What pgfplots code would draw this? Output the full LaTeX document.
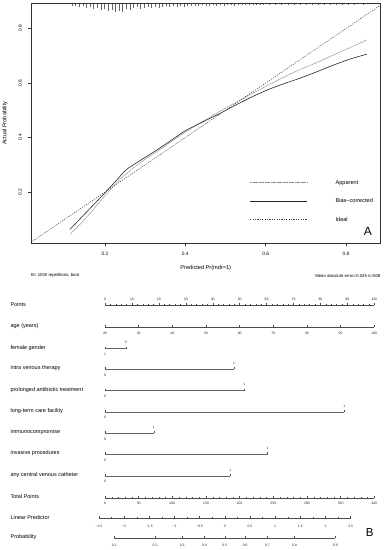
\documentclass[border=0pt]{standalone}
\usepackage{fontspec}
\setmainfont{Liberation Sans}
\usepackage{pgfplots}
\usepackage{pgfplotstable}
\pgfplotsset{compat=1.18}
\newcommand\fs[1]{\fontsize{#1}{#1}\selectfont}
\pgfdeclareplotmark{tup}{%
  \pgfpathmoveto{\pgfpointorigin}%
  \pgfpathlineto{\pgfpoint{0pt}{\pgfplotmarksize}}%
  \pgfusepathqstroke}

\pgfplotstableread{
x y
0.113 0.045
0.150 0.100
0.200 0.186
0.230 0.235
0.254 0.268
0.290 0.310
0.329 0.348
0.370 0.390
0.400 0.420
0.450 0.465
0.500 0.508
0.550 0.548
0.603 0.590
0.650 0.625
0.686 0.650
0.730 0.677
0.769 0.703
0.810 0.730
0.852 0.758
}\apparent

\pgfplotstableread{
x y
0.113 0.063
0.150 0.120
0.200 0.197
0.230 0.245
0.254 0.283
0.290 0.318
0.329 0.354
0.370 0.395
0.400 0.425
0.450 0.462
0.487 0.489
0.520 0.515
0.560 0.545
0.603 0.574
0.650 0.600
0.686 0.618
0.730 0.643
0.769 0.666
0.810 0.688
0.852 0.706
}\biascorr

% rug of predicted values: position and spike length (pt)
\pgfplotstableread{
x len
0.118 2
0.127 2.5
0.136 3
0.145 2.5
0.154 4
0.163 3
0.172 5
0.181 4
0.190 6
0.199 5
0.208 7
0.217 6
0.226 8
0.235 7.5
0.244 8.5
0.253 5
0.262 6
0.271 4
0.280 3
0.289 5
0.298 4
0.307 3
0.316 4.5
0.325 3.5
0.334 4
0.343 3
0.352 2.5
0.361 3.5
0.370 2.5
0.379 3
0.388 2
0.397 3
0.406 2
0.415 2.5
0.424 2
0.433 2
0.442 1.5
0.451 2
0.460 2
0.469 1.5
0.478 2
0.487 1.5
0.496 2
0.505 1.5
0.514 1.5
0.523 2
0.532 1.5
0.541 1.5
0.550 1.5
0.559 1
0.568 1.5
0.577 1
0.586 1.5
0.595 1
0.610 1.5
0.625 1
0.640 1
0.655 1.5
0.670 1
0.685 1
0.700 1
0.715 1.5
0.730 1
0.745 1
0.760 1
0.775 1
0.790 1
0.805 1
0.820 1
0.843 1
}\rug

% binary predictors: row position, points at level change, labels
\pgfplotstableread{
y e l0 l1
-348.7 7.7 1 0
-369.3 47.9 0 1
-390.8 51.7 0 1
-412.0 88.9 0 1
-433.3 18.1 0 1
-454.3 60.4 0 1
-476.0 46.5 0 1
}\binvars

\begin{document}
\begin{tikzpicture}
\useasboundingbox (0,0) rectangle (384pt,550pt);
\begin{axis}[
  at={(31pt,307pt)}, anchor=south west, scale only axis,
  width=349.5pt, height=239.5pt,
  xmin=0.016, xmax=0.886, ymin=0.013, ymax=0.892,
  clip mode=individual,
  xtick={0.2,0.4,0.6,0.8}, ytick={0.2,0.4,0.6,0.8},
  xtick pos=left, ytick pos=left, tick align=outside,
  major tick length=2.5pt,
  tick style={black!80, line width=0.4pt},
  tick label style={font=\fs{4.8}},
  /pgf/number format/assume math mode=true,
  /pgf/number format/fixed,
  yticklabel style={rotate=90, anchor=south},
  xticklabel shift=3pt, yticklabel shift=3pt,
  xlabel={Predicted Pr(mdr=1)}, ylabel={Actual Probability},
  label style={font=\fs{5.6}},
  xlabel style={at={(axis description cs:0.5,-0.1031)}, anchor=center},
  ylabel style={at={(axis description cs:-0.0744,0.5)}, anchor=center},
  axis line style={line width=0.5pt, black!80},
  legend image code/.code={\draw[#1] (0pt,2pt) -- (57pt,2pt); \path (85pt,0pt);},
  legend style={at={(axis description cs:0.6266,0.2618)}, anchor=north west,
    draw=none, fill=none, inner sep=0pt, outer sep=0pt, row sep=13pt,
    column sep=0pt, font=\fs{5.6},
    nodes={inner sep=0pt, text height=4pt, text depth=1.5pt, anchor=base west}},
]
\addplot[black!45, line width=0.6pt, dash pattern=on 0.7pt off 0.5pt, smooth] table {\apparent};
\addlegendentry{Apparent}
\addplot[black!85, line width=0.6pt, smooth] table {\biascorr};
\addlegendentry{Bias--corrected}
\addplot[black!75, line width=0.5pt, dash pattern=on 1.2pt off 1.2pt] coordinates {(0,0) (1,1)};
\addlegendentry{Ideal}
\addplot[forget plot, black!60, line width=0.35pt, mark=none,
  quiver={u=0, v={-\thisrow{len}/272.5}}] table[x=x, y expr=0.892] {\rug};
\node[font=\fs{12}] at (axis description cs:0.964,0.047) {A};
\node[font=\fs{4.3}, anchor=west, inner sep=0pt] at (axis description cs:0,-0.1365) {B= 1000 repetitions, boot};
\node[font=\fs{4.3}, anchor=east, inner sep=0pt] at (axis description cs:1,-0.1365) {Mean absolute error=0.025 n=508};
\end{axis}

\begin{axis}[
  at={(78.07pt,0pt)}, anchor=south west, scale only axis,
  width=323.16pt, height=260pt,
  xmin=-10, xmax=110, ymin=-550, ymax=-290,
  clip=false, axis line style={draw=none},
  xtick=\empty,
  ytick={-538.5,-518.3,-498,-476,-454.3,-433.3,-412,-390.8,-369.3,-348.7,-326.8,-305.3},
  yticklabels={Probability, Linear Predictor, Total Points, any central venous catheter, invasive procedures, immunocompromise, long-term care facility, prolonged antibiotic treatment, intra venous therapy, female gender, age (years), Points},
  ytick style={draw=none},
  yticklabel style={anchor=west, xshift=-71pt, yshift=1pt, font=\fs{5.5}},
  nlin/.style={black!70, line width=0.5pt},
  blin/.style={black!60, line width=0.7pt},
  tk/.style={only marks, mark=tup, mark size=#1, mark options={black!70, line width=0.4pt}},
  tk/.default=2pt,
  lab/.style={nodes near coords, point meta=explicit symbolic,
    nodes near coords align={anchor=center},
    every node near coord/.append style={font=\fs{3.4}, inner sep=0pt, yshift=#1, black!85}},
]
% Points
\addplot[nlin] coordinates {(0,-305.3) (100,-305.3)};
\addplot[tk=1.2pt] table[x=x, y expr=-305.3] {
x
0
2
4
6
8
10
12
14
16
18
20
22
24
26
28
30
32
34
36
38
40
42
44
46
48
50
52
54
56
58
60
62
64
66
68
70
72
74
76
78
80
82
84
86
88
90
92
94
96
98
100
};
\addplot[tk, lab=6pt] table[x=x, y expr=-305.3, meta=l] {
x l
0 0
10 10
20 20
30 30
40 40
50 50
60 60
70 70
80 80
90 90
100 100
};
% age
\addplot[nlin] table[x expr={(\thisrow{a}-20)*1.25}, y expr=-326.8] {
a
20
100
};
\addplot[tk, lab=-6.3pt] table[x expr={(\thisrow{a}-20)*1.25}, y expr=-326.8, meta=l] {
a l
20 20
30 30
40 40
50 50
60 60
70 70
80 80
90 90
100 100
};
% binary predictors
\addplot[blin, quiver={u=\thisrow{e}, v=0}, mark=none] table[x expr=0, y=y] {\binvars};
\addplot[tk, lab=-5.8pt] table[x expr=0, y=y, meta=l0] {\binvars};
\addplot[tk, lab=6pt] table[x=e, y=y, meta=l1] {\binvars};
% Total points
\addplot[nlin] table[x expr={\thisrow{t}/4}, y expr=-498] {
t
0
400
};
\addplot[tk=1.2pt] table[x expr={\thisrow{t}/4}, y expr=-498] {
t
0
10
20
30
40
50
60
70
80
90
100
110
120
130
140
150
160
170
180
190
200
210
220
230
240
250
260
270
280
290
300
310
320
330
340
350
360
370
380
390
400
};
\addplot[tk, lab=-5.8pt] table[x expr={\thisrow{t}/4}, y expr=-498, meta=l] {
t l
0 0
50 50
100 100
150 150
200 200
250 250
300 300
350 350
400 400
};
% Linear predictor
\addplot[nlin] table[x expr={44.5+18.69*\thisrow{v}}, y expr=-518.3] {
v
-2.5
2.5
};
\addplot[tk=1.2pt] table[x expr={44.5+18.69*\thisrow{v}}, y expr=-518.3] {
v
-2.25
-1.75
-1.25
-0.75
-0.25
0.25
0.75
1.25
1.75
2.25
};
\addplot[tk, lab=-8.5pt] table[x expr={44.5+18.69*\thisrow{v}}, y expr=-518.3, meta=l] {
v l
-2.5 −2.5
-2 −2
-1.5 −1.5
-1 −1
-0.5 −0.5
0 0
0.5 0.5
1 1
1.5 1.5
2 2
2.5 2.5
};
% Probability
\addplot[nlin] table[x expr={44.5+18.69*ln(\thisrow{p}/(1-\thisrow{p}))}, y expr=-538.5] {
p
0.1
0.9
};
\addplot[tk, lab=-7pt] table[x expr={44.5+18.69*ln(\thisrow{p}/(1-\thisrow{p}))}, y expr=-538.5, meta=l] {
p l
0.1 0.1
0.2 0.2
0.3 0.3
0.4 0.4
0.5 0.5
0.6 0.6
0.7 0.7
0.8 0.8
0.9 0.9
};
\node[font=\fs{11.5}] at (axis cs:98.3,-532.3) {B};
\end{axis}
\end{tikzpicture}
\end{document}
